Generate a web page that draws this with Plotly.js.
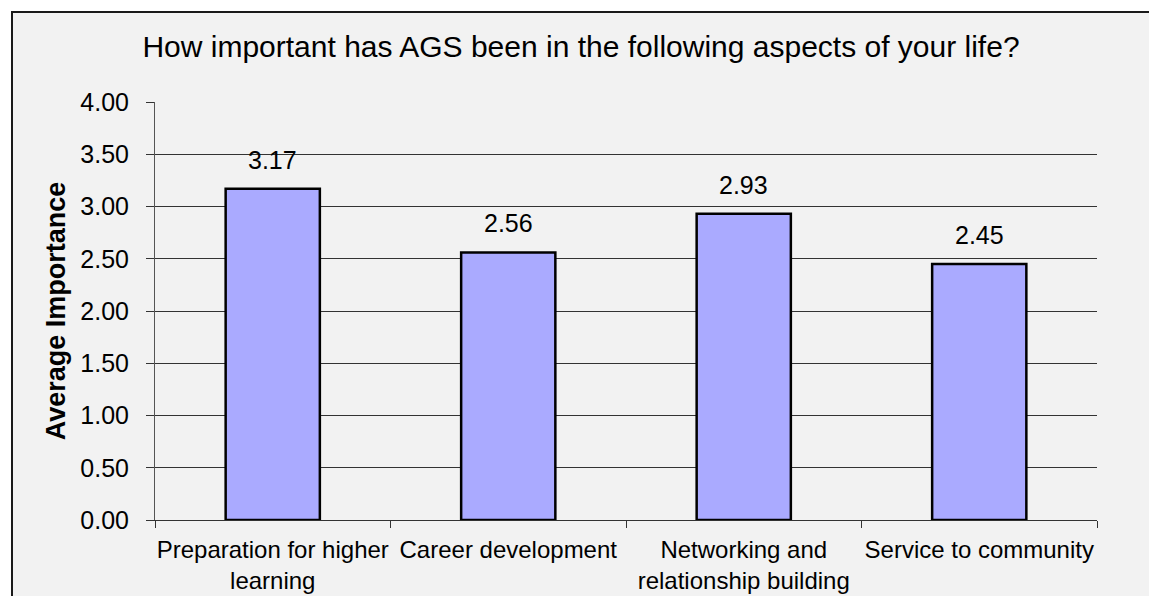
<!DOCTYPE html>
<html>
<head>
<meta charset="utf-8">
<script src="https://cdn.plot.ly/plotly-3.0.1.min.js"></script>
<style>
  html, body { margin: 0; padding: 0; background: #ffffff; width: 1149px; height: 596px; overflow: hidden; }
  #frame {
    position: absolute; left: 11px; top: 11px;
    width: 1160px; height: 600px;
    border-left: 2px solid #1a1a1a; border-top: 2px solid #1a1a1a;
    background: #f2f2f2;
  }
  #chart { width: 1136px; height: 583px; }
</style>
</head>
<body>
<div id="frame"><div id="chart"></div></div>
<script>
// Survey aspects and their mean importance ratings
const aspects = [
  "Preparation for higher<br>learning",
  "Career development",
  "Networking and<br>relationship building",
  "Service to community"
];
const averageImportance = [3.17, 2.56, 2.93, 2.45];

const chartTitle = "How important has AGS been in the following aspects of your life?";
const yAxisTitle = "Average Importance";

const FONT = "Liberation Sans, Arial, sans-serif";

const trace = {
  type: "bar",
  x: aspects,
  y: averageImportance,
  marker: { color: "#aaaaff", line: { color: "#000000", width: 2.5 } },
  hoverinfo: "skip"
};

// value labels sitting above each bar
const valueLabels = aspects.map((a, i) => ({
  x: a,
  y: averageImportance[i],
  xref: "x", yref: "y",
  text: averageImportance[i].toFixed(2),
  showarrow: false,
  yanchor: "bottom",
  yshift: 13,
  font: { family: FONT, size: 25, color: "#000000" }
}));

const layout = {
  width: 1136,
  height: 583,
  margin: { l: 142, r: 52, t: 89, b: 76 },
  paper_bgcolor: "rgba(0,0,0,0)",
  plot_bgcolor: "rgba(0,0,0,0)",
  showlegend: false,
  bargap: 0.6,
  font: { family: FONT, color: "#000000" },
  title: {
    text: chartTitle,
    font: { family: FONT, size: 30, color: "#000000" },
    x: 0.5, xref: "container", xanchor: "center",
    y: 1 - 33 / 583, yref: "container", yanchor: "middle"
  },
  xaxis: {
    type: "category",
    tickson: "boundaries",
    ticks: "outside",
    ticklen: 7,
    tickwidth: 1,
    tickcolor: "#333333",
    showline: true,
    linecolor: "#333333",
    linewidth: 1,
    showgrid: false,
    tickangle: 0,
    ticklabelstandoff: 8,
    tickfont: { family: FONT, size: 24, color: "#000000" },
    fixedrange: true
  },
  yaxis: {
    range: [0, 4],
    dtick: 0.5,
    tick0: 0,
    tickformat: ".2f",
    ticks: "outside",
    ticklen: 8,
    tickwidth: 1,
    tickcolor: "#333333",
    showline: true,
    linecolor: "#555555",
    linewidth: 1,
    showgrid: true,
    gridcolor: "#333333",
    gridwidth: 1,
    zeroline: false,
    ticklabelstandoff: 12,
    tickfont: { family: FONT, size: 25, color: "#000000" },
    title: {
      text: "<b>" + yAxisTitle + "</b>",
      font: { family: FONT, size: 27, color: "#000000" },
      standoff: 6
    },
    fixedrange: true
  },
  annotations: valueLabels
};

Plotly.newPlot("chart", [trace], layout, { displayModeBar: false, staticPlot: true });
</script>
</body>
</html>
